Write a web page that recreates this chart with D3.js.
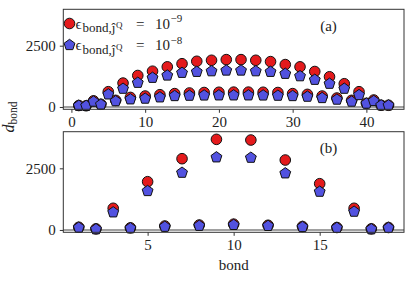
<!DOCTYPE html>
<html>
<head>
<meta charset="UTF-8">
<title>d_bond</title>
<script src="https://cdn.jsdelivr.net/npm/d3@7"></script>
<style>
body { margin: 0; background: #fff; }
text { font-family: "Liberation Serif", serif; fill: #222; }
</style>
</head>
<body>
<script>
// panel (a): 43 bonds
var bondsA = [1,2,3,4,5,6,7,8,9,10,11,12,13,14,15,16,17,18,19,20,21,22,
              23,24,25,26,27,28,29,30,31,32,33,34,35,36,37,38,39,40,41,42,43];
var redA = [60,50,250,110,623,270,975,390,1284,446,1459,500,1637,545,1765,570,1864,590,1905,600,1932,605,
            1932,605,1905,600,1851,590,1730,545,1637,514,1447,446,1232,365,948,270,623,150,284,70,70];
var blueA = [50,45,220,100,514,235,745,312,988,340,1191,393,1284,446,1394,460,1434,470,1459,474,1487,474,
             1487,474,1459,470,1434,460,1354,446,1256,420,1110,365,948,300,745,219,486,138,243,65,65];

// panel (b): 19 bonds
var bondsB = [1,2,3,4,5,6,7,8,9,10,11,12,13,14,15,16,17,18,19];
var redB = [110,45,879,85,1957,160,2890,200,3675,235,3647,190,2836,140,1876,100,879,45,100];
var blueB = [95,30,715,70,1580,130,2322,170,2946,205,2930,165,2297,120,1552,85,742,30,85];

var xTicksA = [0,10,20,30,40];
var xTicksB = [5,10,15];
var yTicks = [0,2500];
var legendExp = ["\u22129", "\u22128"];
var panelLabels = ["(a)", "(b)"];

var W = 411, H = 281;
var left = 63.3, right = 404;
var redC = "#e41a1c", blueC = "#5252e0";

var svg = d3.select("body").append("svg")
    .attr("width", W)
    .attr("height", H);

function pentagon(R) {
    var pts = d3.range(5).map(function (k) {
        var a = -Math.PI / 2 + k * 2 * Math.PI / 5;
        return [R * Math.cos(a), R * Math.sin(a)];
    });
    return "M" + pts.map(function (p) { return p.join(","); }).join("L") + "Z";
}

function panel(top, bottom, bonds, red, blue, xDomain, xTicks, label) {
    var x = d3.scaleLinear().domain(xDomain).range([left, right]);
    var y = d3.scaleLinear().domain([-95, 3985]).range([bottom, top]);
    var g = svg.append("g");

    // zero line
    g.append("line")
        .attr("x1", left).attr("x2", right)
        .attr("y1", y(0)).attr("y2", y(0))
        .attr("stroke", "#a0a0a0").attr("stroke-width", 2);

    g.selectAll("circle.r")
        .data(bonds)
        .enter().append("circle")
        .attr("class", "r")
        .attr("cx", function (d) { return x(d); })
        .attr("cy", function (d, i) { return y(red[i]); })
        .attr("r", 5.3)
        .attr("fill", redC)
        .attr("stroke", "#111")
        .attr("stroke-width", 1);

    g.selectAll("path.b")
        .data(bonds)
        .enter().append("path")
        .attr("class", "b")
        .attr("d", pentagon(5.7))
        .attr("transform", function (d, i) { return "translate(" + x(d) + "," + y(blue[i]) + ")"; })
        .attr("fill", blueC)
        .attr("stroke", "#111")
        .attr("stroke-width", 1);

    // frame
    g.append("rect")
        .attr("x", left).attr("y", top)
        .attr("width", right - left).attr("height", bottom - top)
        .attr("fill", "none").attr("stroke", "#333").attr("stroke-width", 1);

    var xa = g.append("g")
        .attr("transform", "translate(0," + bottom + ")")
        .call(d3.axisBottom(x).tickValues(xTicks).tickFormat(d3.format("d"))
            .tickSize(3.5).tickPadding(4).tickSizeOuter(0));
    var ya = g.append("g")
        .attr("transform", "translate(" + left + ",0)")
        .call(d3.axisLeft(y).tickValues(yTicks).tickFormat(d3.format("d"))
            .tickSize(3.5).tickPadding(4).tickSizeOuter(0));
    [xa, ya].forEach(function (a) {
        a.attr("font-family", null).attr("font-size", 15);
        a.select(".domain").remove();
        a.selectAll("line").attr("stroke", "#333");
        a.selectAll("text").attr("fill", "#222");
    });

    g.append("text")
        .attr("x", 328.5).attr("y", top + 21.5)
        .attr("text-anchor", "middle")
        .attr("font-size", 15)
        .text(label);

    return { x: x, y: y, g: g };
}

var pa = panel(9.3, 109.3, bondsA, redA, blueA, [-1.1, 45.1], xTicksA, panelLabels[0]);
var pb = panel(131.7, 232.3, bondsB, redB, blueB, [0.1, 19.9], xTicksB, panelLabels[1]);

// legend
var leg = svg.append("g");
[0, 1].forEach(function (i) {
    var cy = i === 0 ? 23.5 : 45;
    if (i === 0) {
        leg.append("circle").attr("cx", 69.5).attr("cy", cy).attr("r", 5.3)
            .attr("fill", redC).attr("stroke", "#111").attr("stroke-width", 1);
    } else {
        leg.append("path").attr("d", pentagon(5.7))
            .attr("transform", "translate(69.5," + cy + ")")
            .attr("fill", blueC).attr("stroke", "#111").attr("stroke-width", 1);
    }
    var base = cy + 5;
    var t = leg.append("text").attr("y", base).attr("font-size", 15);
    t.append("tspan").attr("x", 75.5).attr("y", base).text("\u03f5");
    t.append("tspan").attr("x", 82.5).attr("y", base + 3.5).attr("font-size", 13).text("bond,\u0135");
    t.append("tspan").attr("dx", 0.5).attr("y", base - 0.5).attr("font-size", 9).text("Q");
    t.append("tspan").attr("x", 136).attr("y", base).text("=");
    t.append("tspan").attr("x", 155).attr("y", base).text("10");
    t.append("tspan").attr("x", 170.5).attr("y", base - 6.5).attr("font-size", 11).text(legendExp[i]);
});

// axis labels
var yl = svg.append("text")
    .attr("transform", "translate(14,117) rotate(-90)")
    .attr("text-anchor", "middle")
    .attr("font-size", 16);
yl.append("tspan").attr("font-style", "italic").text("d");
yl.append("tspan").attr("font-size", 11.5).attr("dy", 3).text("bond");

svg.append("text")
    .attr("x", (left + right) / 2).attr("y", 270)
    .attr("text-anchor", "middle")
    .attr("font-size", 15)
    .text("bond");
</script>
</body>
</html>
